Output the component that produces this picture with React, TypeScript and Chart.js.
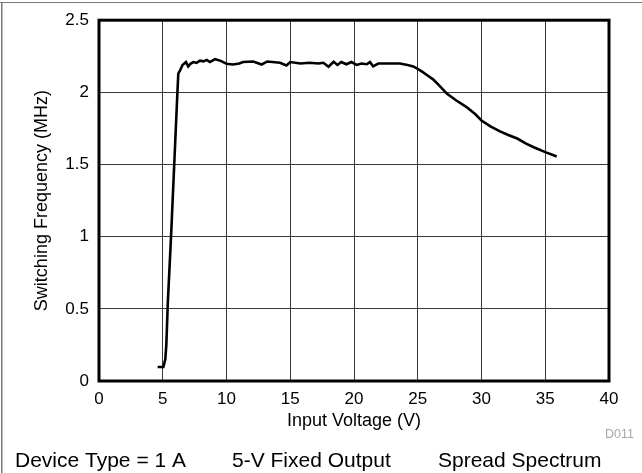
import React, { useEffect, useRef } from 'react';
import { Chart, registerables } from 'chart.js';

Chart.register(...registerables);

// Input voltage (V)
const voltage = [
  4.6, 5.05, 5.2, 5.28, 5.4, 5.65, 5.9, 6.15, 6.22, 6.35, 6.55, 6.82, 7.0, 7.2, 7.4, 7.65,
  7.92, 8.2, 8.45, 8.7, 8.9, 9.1, 9.5, 10.0, 10.5, 11.0, 11.3, 12.1, 12.76, 13.2, 14.2, 14.7,
  15.0, 15.8, 16.5, 17.2, 17.6, 18.0, 18.4, 18.7, 19.0, 19.4, 19.8, 20.2, 20.6, 21.0, 21.25,
  21.5, 21.9, 22.5, 23.0, 23.6, 24.2, 24.65, 25.0, 25.4, 25.8, 26.2, 26.6, 27.3, 28.0, 28.8,
  29.5, 30.0, 30.7, 31.45, 32.1, 32.8, 33.5, 34.1, 35.0, 35.5, 35.9,
];

// Switching frequency (MHz)
const frequency = [
  0.097, 0.097, 0.15, 0.25, 0.55, 1.0, 1.5, 2.0, 2.13, 2.15, 2.19, 2.21, 2.18, 2.2, 2.21, 2.205,
  2.22, 2.215, 2.225, 2.21, 2.22, 2.23, 2.22, 2.198, 2.193, 2.2, 2.21, 2.214, 2.193, 2.214, 2.205, 2.186,
  2.21, 2.2, 2.205, 2.2, 2.205, 2.178, 2.212, 2.19, 2.21, 2.195, 2.21, 2.19, 2.2, 2.195, 2.21,
  2.18, 2.2, 2.2, 2.2, 2.2, 2.19, 2.18, 2.163, 2.14, 2.115, 2.09, 2.055, 1.99, 1.945, 1.9,
  1.85, 1.805, 1.765, 1.73, 1.705, 1.68, 1.645, 1.62, 1.586, 1.57, 1.556,
];

const xTitle = 'Input Voltage (V)';
const yTitle = 'Switching Frequency (MHz)';
const footerLabels = ['Device Type = 1 A', '5-V Fixed Output', 'Spread Spectrum'];
const footerX = [15, 232, 438];
const figureId = 'D011';

const FONT = '"Liberation Sans", Arial, Helvetica, sans-serif';

const framePlugin = {
  id: 'framePlugin',
  beforeDraw(chart: any) {
    const ctx = chart.ctx;
    ctx.save();
    ctx.fillStyle = '#ffffff';
    ctx.fillRect(0, 0, chart.width, chart.height);
    ctx.fillStyle = '#7a7a7a';
    ctx.fillRect(0, 2, chart.width, 1);
    ctx.fillRect(1, 2, 1.5, chart.height - 2);
    ctx.restore();
  },
  afterDraw(chart: any) {
    const ctx = chart.ctx;
    const a = chart.chartArea;
    ctx.save();
    ctx.strokeStyle = '#000000';
    ctx.lineWidth = 3;
    ctx.strokeRect(a.left, a.top, a.right - a.left, a.bottom - a.top);
    ctx.fillStyle = '#000000';
    ctx.font = `21px ${FONT}`;
    ctx.textBaseline = 'alphabetic';
    ctx.textAlign = 'left';
    footerLabels.forEach((t, i) => ctx.fillText(t, footerX[i], 467));
    ctx.fillStyle = '#a8a8a8';
    ctx.font = `12.5px ${FONT}`;
    ctx.fillText(figureId, 605, 438);
    ctx.restore();
  },
};

export default function App() {
  const ref = useRef<HTMLCanvasElement | null>(null);

  useEffect(() => {
    if (!ref.current) return;
    const chart = new Chart(ref.current, {
      type: 'line',
      data: {
        datasets: [
          {
            data: voltage.map((v, i) => ({ x: v, y: frequency[i] })),
            borderColor: '#000000',
            borderWidth: 2.6,
            pointRadius: 0,
            tension: 0,
            fill: false,
          },
        ],
      },
      options: {
        animation: false,
        responsive: false,
        devicePixelRatio: 1,
        layout: { padding: { left: 0, right: 33, top: 20, bottom: 41 } },
        plugins: { legend: { display: false }, tooltip: { enabled: false } },
        scales: {
          x: {
            type: 'linear',
            min: 0,
            max: 40,
            afterFit: (s: any) => { s.height = 51; },
            ticks: { stepSize: 5, padding: 8, color: '#000', font: { family: FONT, size: 17 } },
            grid: { color: '#3a3a3a', lineWidth: 1, drawTicks: false },
            border: { display: false },
            title: { display: true, text: xTitle, color: '#000', font: { family: FONT, size: 18 }, padding: 0 },
          },
          y: {
            type: 'linear',
            min: 0,
            max: 2.5,
            afterFit: (s: any) => { s.width = 99; },
            ticks: {
              stepSize: 0.5,
              padding: 10,
              color: '#000',
              font: { family: FONT, size: 17 },
              callback: (v: any) => String(Number(v)),
            },
            grid: { color: '#3a3a3a', lineWidth: 1, drawTicks: false },
            border: { display: false },
            title: { display: true, text: yTitle, color: '#000', font: { family: FONT, size: 18 }, padding: { top: 31, bottom: 0 } },
          },
        },
      },
      plugins: [framePlugin],
    });
    return () => chart.destroy();
  }, []);

  return (
    <div style={{ position: 'absolute', left: 0, top: 0, width: 642, height: 473, background: '#fff' }}>
      <canvas ref={ref} width={642} height={473} style={{ display: 'block' }} />
    </div>
  );
}
